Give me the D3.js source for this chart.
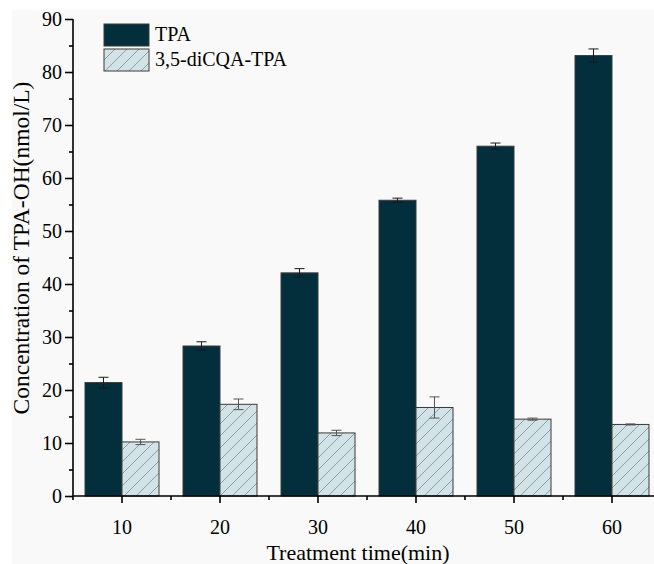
<!DOCTYPE html>
<html>
<head>
<meta charset="utf-8">
<script src="https://cdn.jsdelivr.net/npm/d3@7"></script>
<style>
  body { margin: 0; background: #fff; }
  svg { display: block; font-family: "Liberation Serif", "Times New Roman", serif; }
</style>
</head>
<body>
<div id="chart"></div>
<script>
// data
const times = ["10", "20", "30", "40", "50", "60"];
const seriesNames = ["TPA", "3,5-diCQA-TPA"];
const tpaValues = [21.4, 28.3, 42.1, 55.8, 66.0, 83.1];
const tpaErrors = [1.0, 0.8, 0.8, 0.4, 0.6, 1.25];
const cqaValues = [10.2, 17.3, 11.9, 16.7, 14.5, 13.5];
const cqaErrors = [0.5, 1.0, 0.5, 2.0, 0.2, 0.1];
const yTicks = [0, 10, 20, 30, 40, 50, 60, 70, 80, 90];
const yMinorTicks = [5, 15, 25, 35, 45, 55, 65, 75, 85];

const WIDTH = 654, HEIGHT = 564;
const margin = {top: 19, right: -7, bottom: 68, left: 73};
const width = WIDTH - margin.left - margin.right;
const height = HEIGHT - margin.top - margin.bottom;

const colors = {TPA: "#032e3c", "3,5-diCQA-TPA": "#d2e3e7"};

const rows = [];
times.forEach((t, i) => {
    rows.push({time: t, series: "TPA", value: tpaValues[i], err: tpaErrors[i]});
    rows.push({time: t, series: "3,5-diCQA-TPA", value: cqaValues[i], err: cqaErrors[i]});
});

const svg = d3.select("#chart").append("svg")
    .attr("width", WIDTH)
    .attr("height", HEIGHT);

// light grey figure background
svg.append("rect")
    .attr("x", 12).attr("y", 10)
    .attr("width", WIDTH - 12).attr("height", HEIGHT - 10)
    .attr("fill", "#f9f9f9");

const defs = svg.append("defs");
const pat = defs.append("pattern")
    .attr("id", "hatch")
    .attr("patternUnits", "userSpaceOnUse")
    .attr("width", 12).attr("height", 12);
pat.append("rect").attr("width", 12).attr("height", 12).attr("fill", colors["3,5-diCQA-TPA"]);
pat.append("path")
    .attr("d", "M0,12 L12,0 M-3,3 L3,-3 M9,15 L15,9")
    .attr("stroke", "#8a9599").attr("stroke-width", 0.9);

const g = svg.append("g")
    .attr("transform", `translate(${margin.left},${margin.top})`);

// scales
const x0 = d3.scaleBand()
    .domain(times)
    .range([0, width])
    .paddingInner(0.245)
    .paddingOuter(0.1225);

const x1 = d3.scaleBand()
    .domain(seriesNames)
    .range([0, x0.bandwidth()]);

const y = d3.scaleLinear()
    .domain([0, 90])
    .range([height, 0]);

const fillFor = s => s === "TPA" ? colors.TPA : "url(#hatch)";

// bars
g.selectAll(".bar")
    .data(rows)
    .enter()
    .append("rect")
    .attr("class", "bar")
    .attr("x", d => x0(d.time) + x1(d.series))
    .attr("y", d => y(d.value))
    .attr("width", x1.bandwidth())
    .attr("height", d => y(0) - y(d.value))
    .attr("fill", d => fillFor(d.series))
    .attr("stroke", "#3a3a3a")
    .attr("stroke-width", 1);

// error bars
const eb = g.selectAll(".err")
    .data(rows)
    .enter()
    .append("g")
    .attr("class", "err")
    .attr("stroke", d => d.series === "TPA" ? "#1a1a1a" : "#555")
    .attr("stroke-width", 1);

const cx = d => x0(d.time) + x1(d.series) + x1.bandwidth() / 2;
eb.append("line")
    .attr("x1", cx).attr("x2", cx)
    .attr("y1", d => y(d.value + d.err)).attr("y2", d => y(d.value - d.err));
eb.append("line")
    .attr("x1", d => cx(d) - 5).attr("x2", d => cx(d) + 5)
    .attr("y1", d => y(d.value + d.err)).attr("y2", d => y(d.value + d.err));
eb.append("line")
    .attr("x1", d => cx(d) - 5).attr("x2", d => cx(d) + 5)
    .attr("y1", d => y(d.value - d.err)).attr("y2", d => y(d.value - d.err));

// axes
const yAxis = d3.axisLeft(y).tickValues(yTicks).tickSize(8).tickPadding(3).tickFormat(d3.format("d"));
const yMinor = d3.axisLeft(y).tickValues(yMinorTicks).tickSize(4).tickFormat("");
const xAxis = d3.axisBottom(x0).tickSize(7).tickPadding(17);

const yg = g.append("g").attr("class", "y-axis").call(yAxis);
g.append("g").attr("class", "y-minor").call(yMinor).select(".domain").remove();
const xg = g.append("g").attr("class", "x-axis")
    .attr("transform", `translate(0,${height})`).call(xAxis);

// minor x ticks at group boundaries
const bounds = times.map(t => x0(t) - x0.step() * x0.paddingInner() / 2).concat([width]);
xg.selectAll(".minor")
    .data(bounds)
    .enter()
    .append("line")
    .attr("class", "minor")
    .attr("x1", d => d).attr("x2", d => d)
    .attr("y1", 0).attr("y2", 4)
    .attr("stroke", "#000").attr("stroke-width", 1.6);

g.selectAll(".domain, .tick line").attr("stroke", "#000").attr("stroke-width", 1.6);
yg.select(".domain").attr("d", `M0,${height}V0`);
xg.select(".domain").attr("d", `M0,0H${width}`);
g.selectAll(".tick text").attr("font-size", 20).attr("fill", "#000")
    .attr("font-family", "Liberation Serif, Times New Roman, serif");

// axis titles
svg.append("text")
    .attr("x", 358).attr("y", 560)
    .attr("text-anchor", "middle")
    .attr("font-size", 22)
    .text("Treatment time(min)");

svg.append("text")
    .attr("transform", "translate(29,248) rotate(-90)")
    .attr("text-anchor", "middle")
    .attr("font-size", 23.5)
    .text("Concentration of TPA-OH(nmol/L)");

// legend
const legend = svg.append("g").attr("transform", "translate(104,24)");
seriesNames.forEach((s, i) => {
    legend.append("rect")
        .attr("x", 0).attr("y", i * 25)
        .attr("width", 45).attr("height", 22)
        .attr("fill", fillFor(s))
        .attr("stroke", "#3a3a3a").attr("stroke-width", 1);
    legend.append("text")
        .attr("x", 51).attr("y", i * 25 + 17)
        .attr("font-size", 20)
        .text(s);
});
</script>
</body>
</html>
